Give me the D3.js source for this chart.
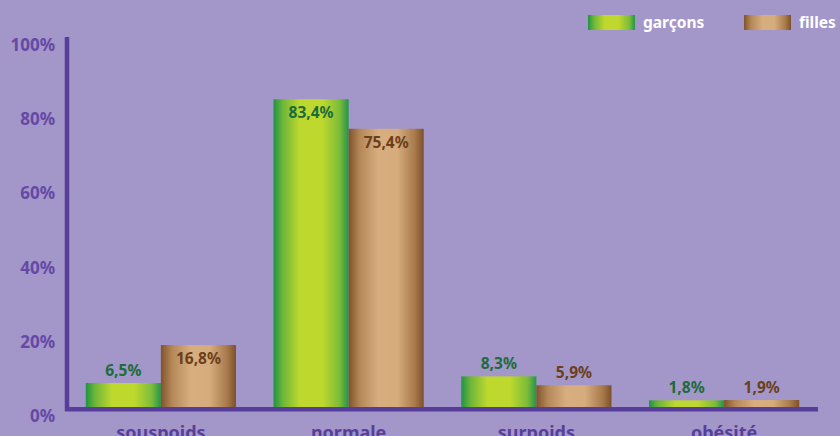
<!DOCTYPE html>
<html>
<head>
<meta charset="utf-8">
<script src="https://cdn.jsdelivr.net/npm/d3@7"></script>
<style>
  html, body { margin: 0; padding: 0; background: #a396c8; }
  svg { display: block; }
  text { font-family: "Noto Sans", "DejaVu Sans", sans-serif; font-weight: 700; }
</style>
</head>
<body>
<svg id="chart" width="840" height="436"></svg>
<script>
const categories = ['souspoids', 'normale', 'surpoids', 'obésité']
const series = ['garçons', 'filles']
const garcons = [6.5, 83.4, 8.3, 1.8]
const filles = [16.8, 75.4, 5.9, 1.9]
const yTicks = [0, 20, 40, 60, 80, 100]

const W = 840, H = 436
const svg = d3.select('#chart')

const defs = svg.append('defs')
const grad = (id, stops) => {
    const g = defs.append('linearGradient').attr('id', id)
        .attr('x1', '0%').attr('x2', '100%').attr('y1', '0%').attr('y2', '0%')
    stops.forEach(([o, c]) => g.append('stop').attr('offset', o).attr('stop-color', c))
}
grad('g-garcons', [['0%', '#1e9443'], ['12%', '#6cb53a'], ['35%', '#bed82e'], ['65%', '#bed82e'], ['88%', '#7cbc3a'], ['100%', '#23954a']])
grad('g-filles', [['0%', '#80532c'], ['15%', '#b58859'], ['40%', '#d8ae80'], ['65%', '#d6ac7d'], ['88%', '#a87a4c'], ['100%', '#7c5029']])

const colors = { 'garçons': 'url(#g-garcons)', 'filles': 'url(#g-filles)' }
const labelColors = { 'garçons': '#1b6c3b', 'filles': '#6b3f1b' }

const x = d3.scaleBand().domain(categories).range([67, 818]).paddingInner(0.2).paddingOuter(0.1)
const xs = d3.scaleBand().domain(series).range([0, x.bandwidth()])
const y = d3.scaleLinear().domain([0, 100]).range([407, 38])

const data = categories.map((c, i) => ({ cat: c, vals: [
    { s: 'garçons', v: garcons[i] },
    { s: 'filles', v: filles[i] }
] }))

// bars
const groups = svg.append('g').selectAll('g')
    .data(data)
    .join('g')
    .attr('transform', d => `translate(${x(d.cat)},0)`)

groups.selectAll('rect')
    .data(d => d.vals)
    .join('rect')
    .attr('x', d => xs(d.s))
    .attr('width', xs.bandwidth())
    .attr('y', d => y(d.v))
    .attr('height', d => y(0) - y(d.v))
    .attr('fill', d => colors[d.s])

// value labels: inside the bar when it is tall enough, above otherwise
const fmt = v => d3.format('.1f')(v).replace('.', ',') + '%'
groups.selectAll('text')
    .data(d => d.vals)
    .join('text')
    .attr('x', d => xs(d.s) + xs.bandwidth() / 2)
    .attr('y', d => d.v > 10 ? y(d.v) + 19 : y(d.v) - 7)
    .attr('text-anchor', 'middle')
    .attr('font-size', 15.5)
    .attr('fill', d => labelColors[d.s])
    .text(d => fmt(d.v))

// axes
const axisColor = '#583e9b'
svg.append('line')
    .attr('x1', 67).attr('x2', 67)
    .attr('y1', y(100) - 1).attr('y2', y(0) + 4)
    .attr('stroke', axisColor).attr('stroke-width', 4.5)
svg.append('line')
    .attr('x1', 65).attr('x2', 818)
    .attr('y1', y(0) + 2.3).attr('y2', y(0) + 2.3)
    .attr('stroke', axisColor).attr('stroke-width', 4.5)

svg.append('g').selectAll('text')
    .data(yTicks)
    .join('text')
    .attr('x', 55)
    .attr('y', d => y(d) + 13 + (100 - d) * 0.02)
    .attr('text-anchor', 'end')
    .attr('font-size', 17)
    .attr('fill', '#6449a6')
    .text(d => d + '%')

svg.append('g').selectAll('text')
    .data(categories)
    .join('text')
    .attr('x', d => x(d) + x.bandwidth() / 2)
    .attr('y', 439)
    .attr('text-anchor', 'middle')
    .attr('font-size', 18)
    .attr('fill', '#583e9b')
    .text(d => d)

// legend
const legend = svg.append('g').selectAll('g')
    .data(series)
    .join('g')
    .attr('transform', (d, i) => `translate(${588 + i * 156},15)`)
legend.append('rect')
    .attr('width', 47).attr('height', 15)
    .attr('fill', d => colors[d])
legend.append('text')
    .attr('x', 55).attr('y', 13)
    .attr('font-size', 15.5)
    .attr('fill', '#ffffff')
    .text(d => d)
</script>
</body>
</html>
